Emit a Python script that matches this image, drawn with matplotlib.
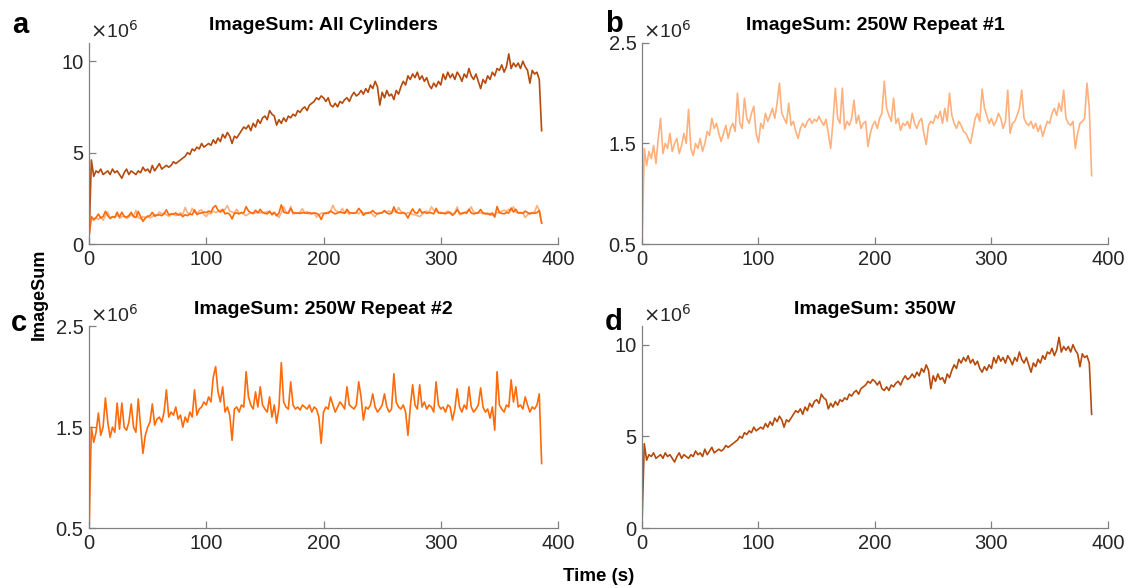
import numpy as np
import matplotlib.pyplot as plt

plt.rcParams['font.family'] = ['Liberation Sans', 'DejaVu Sans']

# time axis (s), one sample every 2 s
time = np.arange(0, 388, 2)

# ImageSum values, x 1e6
w350 = [0.1, 4.6, 3.7, 4.0, 3.9, 4.1, 3.8, 3.9, 4.0, 3.8,
        4.1, 3.9, 4.0, 3.8, 3.6, 3.9, 4.1, 3.8, 4.0, 3.9,
        3.8, 4.0, 3.9, 4.2, 4.0, 4.1, 3.9, 4.3, 4.0, 4.2,
        4.4, 4.1, 4.2, 4.3, 4.2, 4.3, 4.5, 4.4, 4.5, 4.6,
        4.7, 4.8, 5.0, 4.9, 5.2, 5.1, 5.3, 5.2, 5.5, 5.3,
        5.4, 5.5, 5.4, 5.7, 5.5, 5.8, 5.6, 6.0, 5.8, 6.1,
        5.9, 5.5, 5.9, 5.8, 6.0, 6.2, 6.4, 6.3, 6.5, 6.2,
        6.6, 6.4, 6.8, 6.6, 6.9, 7.0, 6.8, 7.3, 7.1, 7.0,
        6.5, 6.8, 6.6, 6.9, 6.7, 7.0, 6.9, 7.1, 7.0, 7.3,
        7.2, 7.4, 7.5, 7.3, 7.6, 7.7, 7.8, 8.0, 7.9, 8.1,
        8.0, 7.8, 8.0, 7.6, 7.5, 7.7, 7.5, 7.8, 7.7, 7.9,
        8.0, 7.8, 8.1, 8.3, 8.1, 8.2, 8.4, 8.2, 8.5, 8.3,
        8.7, 8.5, 8.9, 8.6, 7.6, 8.3, 8.0, 8.4, 8.1, 8.2,
        7.9, 8.4, 8.2, 8.6, 8.9, 8.7, 9.2, 9.0, 9.3, 9.1,
        9.4, 9.0, 9.2, 8.9, 9.1, 8.7, 8.5, 8.8, 8.6, 8.9,
        8.7, 9.3, 9.0, 9.4, 9.1, 9.3, 9.0, 9.4, 9.2, 8.9,
        9.3, 9.1, 9.6, 9.2, 9.0, 9.3, 8.9, 8.5, 9.0, 8.8,
        9.2, 9.0, 9.4, 9.2, 9.6, 9.5, 9.8, 9.4, 9.7, 10.4,
        9.6, 9.9, 9.7, 9.9, 9.6, 10.0, 9.7, 9.5, 8.8, 9.5,
        9.3, 9.4, 9.0, 6.2]

rep1 = [0.45, 1.45, 1.28, 1.42, 1.35, 1.48, 1.3, 1.55, 1.75, 1.4,
        1.5, 1.45, 1.6, 1.42, 1.5, 1.55, 1.4, 1.48, 1.6, 1.5,
        1.84, 1.45, 1.38, 1.5, 1.45, 1.55, 1.42, 1.5, 1.62, 1.58,
        1.75, 1.65, 1.7, 1.6, 1.52, 1.6, 1.68, 1.55, 1.65, 1.7,
        1.62, 2.0, 1.7, 1.65, 1.95, 1.75, 1.7, 1.8, 1.87, 1.6,
        1.51, 1.7, 1.65, 1.8, 1.72, 1.78, 1.85, 1.75, 1.9, 2.1,
        1.8, 1.75, 1.7, 1.9, 1.68, 1.72, 1.62, 1.55, 1.65, 1.7,
        1.66, 1.72, 1.75, 1.7, 1.74, 1.72, 1.77, 1.72, 1.68, 1.74,
        1.6, 1.45, 1.72, 2.05, 1.75, 1.7, 2.05, 1.64, 1.72, 1.68,
        1.75, 1.93, 1.7, 1.78, 1.65, 1.7, 1.72, 1.47, 1.6, 1.68,
        1.72, 1.65, 1.75, 1.8, 2.12, 1.85, 1.78, 1.72, 1.95, 1.7,
        1.75, 1.63, 1.7, 1.68, 1.72, 1.65, 1.8, 1.7, 1.65, 1.72,
        1.75, 1.6, 1.49, 1.68, 1.72, 1.7, 1.78, 1.75, 1.82, 1.7,
        1.85, 1.72, 2.0, 1.78, 1.7, 1.65, 1.72, 1.68, 1.62, 1.6,
        1.55, 1.5, 1.62, 1.75, 1.8, 1.72, 2.04, 1.85, 1.78, 1.7,
        1.75, 1.68, 1.72, 1.8, 1.75, 1.65, 1.72, 2.03, 1.6, 1.7,
        1.72, 1.78, 1.85, 2.03, 1.75, 1.7, 1.68, 1.72, 1.65, 1.7,
        1.62, 1.68, 1.57, 1.65, 1.72, 1.7, 1.8, 1.85, 1.78, 1.9,
        1.82, 2.03, 1.75, 1.7, 1.68, 1.72, 1.45, 1.6, 1.7, 1.72,
        1.75, 2.1, 1.85, 1.18]

rep2 = [0.42, 1.5, 1.35, 1.45, 1.64, 1.42, 1.5, 1.79, 1.55, 1.4,
        1.5, 1.45, 1.74, 1.48, 1.74, 1.5, 1.47, 1.55, 1.73, 1.5,
        1.45, 1.78, 1.5, 1.24, 1.42, 1.5, 1.55, 1.73, 1.52, 1.58,
        1.6, 1.55, 1.65, 1.87, 1.6, 1.65, 1.62, 1.7, 1.58, 1.62,
        1.5, 1.6, 1.55, 1.65, 1.6, 1.87, 1.62, 1.68, 1.7, 1.75,
        1.72, 1.8, 1.75, 2.0, 2.1, 1.85, 1.75, 1.9, 1.65, 1.7,
        1.62, 1.37, 1.68, 1.7, 1.65, 1.72, 1.7, 2.05, 1.8, 1.72,
        1.68, 1.85, 1.7, 1.9, 1.72, 1.68, 1.65, 1.8, 1.6, 1.72,
        1.54, 1.7, 2.14, 1.75, 1.7, 1.68, 1.95, 1.72, 1.68, 1.7,
        1.67, 1.72, 1.7, 1.68, 1.72, 1.65, 1.7, 1.68, 1.6, 1.34,
        1.65, 1.7, 1.68, 1.8, 1.72, 1.65, 1.7, 1.75, 1.72, 1.68,
        1.9, 1.72, 1.7, 1.68, 1.72, 1.95, 1.8, 1.57, 1.7, 1.68,
        1.72, 1.83, 1.7, 1.65, 1.68, 1.72, 1.83, 1.7, 1.65, 1.68,
        2.03, 1.75, 1.7, 1.68, 1.72, 1.65, 1.42, 1.7, 1.92, 1.72,
        1.68, 1.92, 1.7, 1.75, 1.68, 1.72, 1.7, 1.65, 1.95, 1.72,
        1.68, 1.7, 1.65, 1.72, 1.7, 1.57, 1.68, 1.88, 1.7, 1.65,
        1.72, 1.68, 1.9, 1.7, 1.65, 1.68, 1.72, 1.89, 1.7, 1.65,
        1.68, 1.59, 1.7, 1.47, 2.05, 1.72, 1.68, 1.65, 1.72, 1.7,
        1.97, 1.75, 1.9, 1.7, 1.72, 1.68, 1.8, 1.72, 1.65, 1.7,
        1.68, 1.72, 1.83, 1.14]

c350 = '#B54A0C'
c1 = '#FFB07C'
c2 = '#FF6A0A'

fig = plt.figure(figsize=(11.31, 5.88), dpi=100)

# axes rects [left, bottom, width, height]
rects = {
    'a': [0.0787, 0.585, 0.4147, 0.342],
    'b': [0.5676, 0.585, 0.412, 0.342],
    'c': [0.0787, 0.102, 0.4147, 0.343],
    'd': [0.5676, 0.102, 0.412, 0.343],
}
titles = {
    'a': 'ImageSum: All Cylinders',
    'b': 'ImageSum: 250W Repeat #1',
    'c': 'ImageSum: 250W Repeat #2',
    'd': 'ImageSum: 350W',
}
letter_pos = {'a': (0.011, 0.957), 'b': (0.535, 0.960), 'c': (0.010, 0.451), 'd': (0.535, 0.452)}

axes = {}
for k, r in rects.items():
    ax = fig.add_axes(r)
    axes[k] = ax
    ax.set_xlim(0, 400)
    ax.set_xticks([0, 100, 200, 300, 400])
    for s in ['top', 'right']:
        ax.spines[s].set_visible(False)
    for s in ['left', 'bottom']:
        ax.spines[s].set_color('#808080')
        ax.spines[s].set_linewidth(0.9)
    ax.tick_params(direction='in', length=5, width=0.9, color='#808080',
                   labelsize=14.5, labelcolor='#262626', pad=4)
    ax.set_title(titles[k], fontsize=14, fontweight='bold', pad=9)
    ax.text(0.003, 1.005, r'$\times$10$^6$', transform=ax.transAxes,
            fontsize=14, color='#262626', ha='left', va='bottom')
    fig.text(letter_pos[k][0], letter_pos[k][1], k, fontsize=21,
             fontweight='bold', ha='left', va='center')

y350 = np.array(w350)
y1 = np.array(rep1)
y2 = np.array(rep2)

ax = axes['a']
ax.plot(time, y350, color=c350, lw=1.2)
ax.plot(time, y1, color=c1, lw=1.2)
ax.plot(time, y2, color=c2, lw=1.2)
ax.set_ylim(0, 11)
ax.set_yticks([0, 5, 10])

ax = axes['b']
ax.plot(time, y1, color=c1, lw=1.2)
ax.set_ylim(0.5, 2.5)
ax.set_yticks([0.5, 1.5, 2.5])

ax = axes['c']
ax.plot(time, y2, color=c2, lw=1.2)
ax.set_ylim(0.5, 2.5)
ax.set_yticks([0.5, 1.5, 2.5])

ax = axes['d']
ax.plot(time, y350, color=c350, lw=1.2)
ax.set_ylim(0, 11)
ax.set_yticks([0, 5, 10])

fig.text(0.035, 0.50, 'ImageSum', rotation=90, fontsize=13, fontweight='bold',
         ha='center', va='center')
fig.text(0.529, 0.019, 'Time (s)', fontsize=13.5, fontweight='bold',
         ha='center', va='center')

fig.savefig('out.png', dpi=100)
